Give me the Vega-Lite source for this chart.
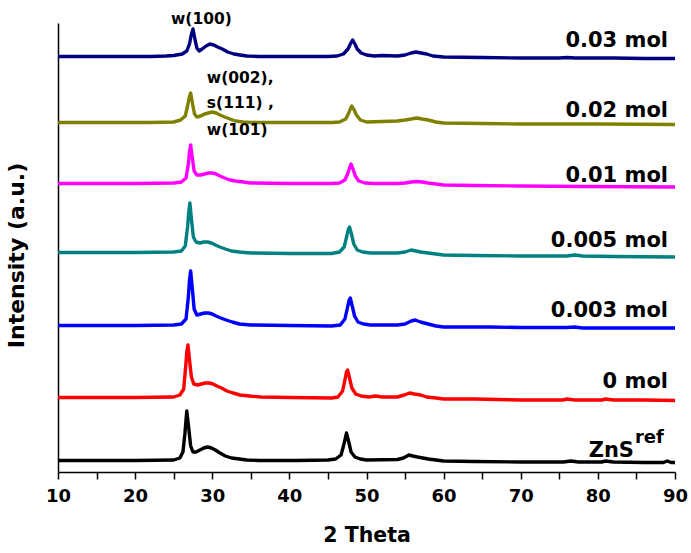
{
  "$schema": "https://vega.github.io/schema/vega-lite/v6.json",
  "width": 617,
  "height": 449,
  "autosize": {"type": "none"},
  "padding": {"left": 58, "top": 23, "right": 16, "bottom": 81},
  "background": "white",
  "config": {
    "view": {"stroke": null},
    "axisX": {"tickSize": 7}
  },
  "datasets": {
    "xrd": [
      {"s":"0.03 mol","x":10,"y":415.5},{"s":"0.03 mol","x":14,"y":415.5},{"s":"0.03 mol","x":18,"y":415.5},{"s":"0.03 mol","x":22,"y":415.5},{"s":"0.03 mol","x":24,"y":416},{"s":"0.03 mol","x":25,"y":416.5},{"s":"0.03 mol","x":26.1,"y":418},{"s":"0.03 mol","x":26.7,"y":421},{"s":"0.03 mol","x":27.05,"y":428},{"s":"0.03 mol","x":27.25,"y":436},{"s":"0.03 mol","x":27.5,"y":443},{"s":"0.03 mol","x":27.75,"y":433},{"s":"0.03 mol","x":28.0,"y":424},{"s":"0.03 mol","x":28.3,"y":421},{"s":"0.03 mol","x":28.7,"y":423},{"s":"0.03 mol","x":29.2,"y":426},{"s":"0.03 mol","x":29.7,"y":428},{"s":"0.03 mol","x":30.2,"y":427},{"s":"0.03 mol","x":30.7,"y":425},{"s":"0.03 mol","x":31.3,"y":423},{"s":"0.03 mol","x":32,"y":420},{"s":"0.03 mol","x":32.8,"y":418},{"s":"0.03 mol","x":33.6,"y":417},{"s":"0.03 mol","x":34.5,"y":416},{"s":"0.03 mol","x":36,"y":415.5},{"s":"0.03 mol","x":40,"y":415.5},{"s":"0.03 mol","x":45,"y":415.5},{"s":"0.03 mol","x":46.2,"y":416},{"s":"0.03 mol","x":47,"y":418},{"s":"0.03 mol","x":47.6,"y":423},{"s":"0.03 mol","x":47.9,"y":428},{"s":"0.03 mol","x":48.2,"y":432},{"s":"0.03 mol","x":48.5,"y":428},{"s":"0.03 mol","x":48.8,"y":423},{"s":"0.03 mol","x":49.3,"y":419},{"s":"0.03 mol","x":50,"y":417},{"s":"0.03 mol","x":51,"y":416},{"s":"0.03 mol","x":52,"y":416.5},{"s":"0.03 mol","x":54,"y":416},{"s":"0.03 mol","x":55,"y":417},{"s":"0.03 mol","x":55.8,"y":419},{"s":"0.03 mol","x":56.4,"y":420},{"s":"0.03 mol","x":57.1,"y":419},{"s":"0.03 mol","x":57.8,"y":418},{"s":"0.03 mol","x":58.6,"y":416},{"s":"0.03 mol","x":60,"y":415},{"s":"0.03 mol","x":65,"y":414.5},{"s":"0.03 mol","x":70,"y":414},{"s":"0.03 mol","x":75,"y":414},{"s":"0.03 mol","x":76,"y":414.5},{"s":"0.03 mol","x":77,"y":414},{"s":"0.03 mol","x":82,"y":414},{"s":"0.03 mol","x":86,"y":413.5},{"s":"0.03 mol","x":90,"y":413.5},

      {"s":"0.02 mol","x":10,"y":349.5},{"s":"0.02 mol","x":14,"y":349.5},{"s":"0.02 mol","x":18,"y":349.5},{"s":"0.02 mol","x":22,"y":349.5},{"s":"0.02 mol","x":25,"y":350},{"s":"0.02 mol","x":25.9,"y":352},{"s":"0.02 mol","x":26.5,"y":356},{"s":"0.02 mol","x":26.8,"y":366},{"s":"0.02 mol","x":27.0,"y":374},{"s":"0.02 mol","x":27.2,"y":379},{"s":"0.02 mol","x":27.45,"y":368},{"s":"0.02 mol","x":27.7,"y":358},{"s":"0.02 mol","x":28.0,"y":355},{"s":"0.02 mol","x":28.5,"y":356},{"s":"0.02 mol","x":29.0,"y":358},{"s":"0.02 mol","x":29.5,"y":359},{"s":"0.02 mol","x":30.0,"y":360},{"s":"0.02 mol","x":30.5,"y":359},{"s":"0.02 mol","x":31.0,"y":357},{"s":"0.02 mol","x":31.6,"y":355},{"s":"0.02 mol","x":32.3,"y":353},{"s":"0.02 mol","x":33,"y":351},{"s":"0.02 mol","x":34,"y":350},{"s":"0.02 mol","x":35,"y":349.5},{"s":"0.02 mol","x":40,"y":349.5},{"s":"0.02 mol","x":45.5,"y":349.5},{"s":"0.02 mol","x":46.5,"y":350},{"s":"0.02 mol","x":47.3,"y":353},{"s":"0.02 mol","x":47.7,"y":359},{"s":"0.02 mol","x":47.9,"y":363},{"s":"0.02 mol","x":48.1,"y":366},{"s":"0.02 mol","x":48.4,"y":362},{"s":"0.02 mol","x":48.7,"y":357},{"s":"0.02 mol","x":49.2,"y":352},{"s":"0.02 mol","x":50,"y":350},{"s":"0.02 mol","x":52,"y":350.5},{"s":"0.02 mol","x":54,"y":351},{"s":"0.02 mol","x":55,"y":352},{"s":"0.02 mol","x":55.8,"y":353},{"s":"0.02 mol","x":56.5,"y":354},{"s":"0.02 mol","x":57.2,"y":353},{"s":"0.02 mol","x":58,"y":352},{"s":"0.02 mol","x":59,"y":350},{"s":"0.02 mol","x":60,"y":349},{"s":"0.02 mol","x":65,"y":348.5},{"s":"0.02 mol","x":70,"y":348},{"s":"0.02 mol","x":80,"y":348},{"s":"0.02 mol","x":90,"y":347.5},

      {"s":"0.01 mol","x":10,"y":288.5},{"s":"0.01 mol","x":15,"y":288.5},{"s":"0.01 mol","x":20,"y":288.5},{"s":"0.01 mol","x":25,"y":289},{"s":"0.01 mol","x":26,"y":290},{"s":"0.01 mol","x":26.6,"y":294},{"s":"0.01 mol","x":26.9,"y":308},{"s":"0.01 mol","x":27.05,"y":320},{"s":"0.01 mol","x":27.2,"y":327},{"s":"0.01 mol","x":27.4,"y":315},{"s":"0.01 mol","x":27.65,"y":301},{"s":"0.01 mol","x":28.0,"y":297},{"s":"0.01 mol","x":28.5,"y":297},{"s":"0.01 mol","x":29.0,"y":298},{"s":"0.01 mol","x":29.5,"y":299},{"s":"0.01 mol","x":30.0,"y":299},{"s":"0.01 mol","x":30.5,"y":298},{"s":"0.01 mol","x":31.0,"y":296},{"s":"0.01 mol","x":31.6,"y":294},{"s":"0.01 mol","x":32.3,"y":292},{"s":"0.01 mol","x":33,"y":291},{"s":"0.01 mol","x":34,"y":290},{"s":"0.01 mol","x":35,"y":289},{"s":"0.01 mol","x":40,"y":288.5},{"s":"0.01 mol","x":45.5,"y":288.5},{"s":"0.01 mol","x":46.5,"y":289},{"s":"0.01 mol","x":47.2,"y":292},{"s":"0.01 mol","x":47.6,"y":299},{"s":"0.01 mol","x":47.8,"y":304},{"s":"0.01 mol","x":48.0,"y":308},{"s":"0.01 mol","x":48.25,"y":303},{"s":"0.01 mol","x":48.55,"y":296},{"s":"0.01 mol","x":49.0,"y":291},{"s":"0.01 mol","x":49.8,"y":289},{"s":"0.01 mol","x":51,"y":288.5},{"s":"0.01 mol","x":54,"y":288.5},{"s":"0.01 mol","x":55,"y":289},{"s":"0.01 mol","x":55.8,"y":290},{"s":"0.01 mol","x":56.5,"y":290.5},{"s":"0.01 mol","x":57.2,"y":290},{"s":"0.01 mol","x":58,"y":289},{"s":"0.01 mol","x":59,"y":288},{"s":"0.01 mol","x":60,"y":287},{"s":"0.01 mol","x":64,"y":286.5},{"s":"0.01 mol","x":70,"y":286},{"s":"0.01 mol","x":78,"y":285.5},{"s":"0.01 mol","x":90,"y":285},

      {"s":"0.005 mol","x":10,"y":219.5},{"s":"0.005 mol","x":15,"y":219.5},{"s":"0.005 mol","x":20,"y":219.5},{"s":"0.005 mol","x":25,"y":220},{"s":"0.005 mol","x":26,"y":221},{"s":"0.005 mol","x":26.5,"y":226},{"s":"0.005 mol","x":26.8,"y":245},{"s":"0.005 mol","x":26.95,"y":260},{"s":"0.005 mol","x":27.1,"y":269},{"s":"0.005 mol","x":27.3,"y":253},{"s":"0.005 mol","x":27.55,"y":235},{"s":"0.005 mol","x":27.9,"y":230},{"s":"0.005 mol","x":28.4,"y":229},{"s":"0.005 mol","x":28.9,"y":230},{"s":"0.005 mol","x":29.4,"y":230},{"s":"0.005 mol","x":29.9,"y":229},{"s":"0.005 mol","x":30.4,"y":227},{"s":"0.005 mol","x":31.0,"y":225},{"s":"0.005 mol","x":31.7,"y":223},{"s":"0.005 mol","x":32.5,"y":221},{"s":"0.005 mol","x":33.5,"y":220},{"s":"0.005 mol","x":35,"y":219},{"s":"0.005 mol","x":40,"y":218.5},{"s":"0.005 mol","x":45.5,"y":218.5},{"s":"0.005 mol","x":46.5,"y":220},{"s":"0.005 mol","x":47.1,"y":225},{"s":"0.005 mol","x":47.45,"y":236},{"s":"0.005 mol","x":47.65,"y":243},{"s":"0.005 mol","x":47.8,"y":245},{"s":"0.005 mol","x":48.05,"y":238},{"s":"0.005 mol","x":48.35,"y":228},{"s":"0.005 mol","x":48.8,"y":222},{"s":"0.005 mol","x":49.5,"y":220},{"s":"0.005 mol","x":50.5,"y":219},{"s":"0.005 mol","x":54,"y":219},{"s":"0.005 mol","x":55,"y":220},{"s":"0.005 mol","x":55.8,"y":222},{"s":"0.005 mol","x":56.4,"y":221},{"s":"0.005 mol","x":57,"y":220},{"s":"0.005 mol","x":58,"y":219},{"s":"0.005 mol","x":59,"y":218},{"s":"0.005 mol","x":60,"y":217},{"s":"0.005 mol","x":64,"y":216.5},{"s":"0.005 mol","x":70,"y":216},{"s":"0.005 mol","x":76,"y":216},{"s":"0.005 mol","x":77,"y":217},{"s":"0.005 mol","x":78,"y":216},{"s":"0.005 mol","x":82,"y":215.5},{"s":"0.005 mol","x":90,"y":215},

      {"s":"0.003 mol","x":10,"y":146.5},{"s":"0.003 mol","x":15,"y":146.5},{"s":"0.003 mol","x":20,"y":146.5},{"s":"0.003 mol","x":25,"y":147},{"s":"0.003 mol","x":26,"y":148},{"s":"0.003 mol","x":26.6,"y":153},{"s":"0.003 mol","x":26.9,"y":175},{"s":"0.003 mol","x":27.05,"y":192},{"s":"0.003 mol","x":27.2,"y":201},{"s":"0.003 mol","x":27.4,"y":185},{"s":"0.003 mol","x":27.65,"y":163},{"s":"0.003 mol","x":28.0,"y":157},{"s":"0.003 mol","x":28.5,"y":158},{"s":"0.003 mol","x":29.0,"y":159},{"s":"0.003 mol","x":29.5,"y":159},{"s":"0.003 mol","x":30.0,"y":158},{"s":"0.003 mol","x":30.5,"y":156},{"s":"0.003 mol","x":31.1,"y":154},{"s":"0.003 mol","x":31.8,"y":152},{"s":"0.003 mol","x":32.6,"y":150},{"s":"0.003 mol","x":33.5,"y":148},{"s":"0.003 mol","x":35,"y":147},{"s":"0.003 mol","x":40,"y":146.5},{"s":"0.003 mol","x":45.5,"y":146},{"s":"0.003 mol","x":46.6,"y":147},{"s":"0.003 mol","x":47.2,"y":153},{"s":"0.003 mol","x":47.55,"y":165},{"s":"0.003 mol","x":47.75,"y":172},{"s":"0.003 mol","x":47.9,"y":174},{"s":"0.003 mol","x":48.15,"y":166},{"s":"0.003 mol","x":48.45,"y":156},{"s":"0.003 mol","x":48.9,"y":150},{"s":"0.003 mol","x":49.6,"y":148},{"s":"0.003 mol","x":50.5,"y":147},{"s":"0.003 mol","x":54,"y":147},{"s":"0.003 mol","x":55,"y":148},{"s":"0.003 mol","x":55.8,"y":151},{"s":"0.003 mol","x":56.3,"y":152},{"s":"0.003 mol","x":57,"y":150},{"s":"0.003 mol","x":58,"y":148},{"s":"0.003 mol","x":59,"y":146},{"s":"0.003 mol","x":60,"y":145},{"s":"0.003 mol","x":66,"y":145},{"s":"0.003 mol","x":70,"y":144.5},{"s":"0.003 mol","x":76,"y":144.5},{"s":"0.003 mol","x":77,"y":145},{"s":"0.003 mol","x":78,"y":144},{"s":"0.003 mol","x":90,"y":144},

      {"s":"0 mol","x":10,"y":74.5},{"s":"0 mol","x":15,"y":74.5},{"s":"0 mol","x":20,"y":74.5},{"s":"0 mol","x":25,"y":75},{"s":"0 mol","x":25.8,"y":77},{"s":"0 mol","x":26.3,"y":83},{"s":"0 mol","x":26.55,"y":105},{"s":"0 mol","x":26.7,"y":120},{"s":"0 mol","x":26.85,"y":127},{"s":"0 mol","x":27.05,"y":112},{"s":"0 mol","x":27.3,"y":95},{"s":"0 mol","x":27.6,"y":88},{"s":"0 mol","x":28.1,"y":87},{"s":"0 mol","x":28.6,"y":88},{"s":"0 mol","x":29.1,"y":89},{"s":"0 mol","x":29.6,"y":89},{"s":"0 mol","x":30.1,"y":88},{"s":"0 mol","x":30.6,"y":86},{"s":"0 mol","x":31.2,"y":84},{"s":"0 mol","x":31.9,"y":81},{"s":"0 mol","x":32.7,"y":79},{"s":"0 mol","x":33.6,"y":77},{"s":"0 mol","x":34.8,"y":76},{"s":"0 mol","x":36.3,"y":75},{"s":"0 mol","x":40,"y":74.5},{"s":"0 mol","x":45.5,"y":74},{"s":"0 mol","x":46.3,"y":75},{"s":"0 mol","x":46.9,"y":81},{"s":"0 mol","x":47.2,"y":92},{"s":"0 mol","x":47.4,"y":100},{"s":"0 mol","x":47.55,"y":102},{"s":"0 mol","x":47.8,"y":94},{"s":"0 mol","x":48.1,"y":84},{"s":"0 mol","x":48.6,"y":78},{"s":"0 mol","x":49.3,"y":76},{"s":"0 mol","x":50.3,"y":75},{"s":"0 mol","x":51.2,"y":76},{"s":"0 mol","x":52,"y":75},{"s":"0 mol","x":54,"y":75},{"s":"0 mol","x":54.9,"y":77},{"s":"0 mol","x":55.6,"y":79},{"s":"0 mol","x":56.2,"y":78},{"s":"0 mol","x":57,"y":77},{"s":"0 mol","x":57.8,"y":75},{"s":"0 mol","x":59,"y":74},{"s":"0 mol","x":60,"y":73},{"s":"0 mol","x":64,"y":73},{"s":"0 mol","x":70,"y":72},{"s":"0 mol","x":75.5,"y":72},{"s":"0 mol","x":76,"y":73},{"s":"0 mol","x":77,"y":72},{"s":"0 mol","x":80.5,"y":72},{"s":"0 mol","x":81,"y":73},{"s":"0 mol","x":82,"y":72},{"s":"0 mol","x":86,"y":72},{"s":"0 mol","x":90,"y":71.5},

      {"s":"ZnS ref","x":10,"y":11.5},{"s":"ZnS ref","x":15,"y":11.5},{"s":"ZnS ref","x":20,"y":11.5},{"s":"ZnS ref","x":25,"y":12},{"s":"ZnS ref","x":25.8,"y":14},{"s":"ZnS ref","x":26.2,"y":20},{"s":"ZnS ref","x":26.45,"y":38},{"s":"ZnS ref","x":26.7,"y":61},{"s":"ZnS ref","x":26.95,"y":44},{"s":"ZnS ref","x":27.2,"y":26},{"s":"ZnS ref","x":27.5,"y":20},{"s":"ZnS ref","x":27.9,"y":20},{"s":"ZnS ref","x":28.4,"y":22},{"s":"ZnS ref","x":28.9,"y":24},{"s":"ZnS ref","x":29.4,"y":25},{"s":"ZnS ref","x":29.9,"y":24},{"s":"ZnS ref","x":30.4,"y":22},{"s":"ZnS ref","x":31,"y":19},{"s":"ZnS ref","x":31.7,"y":16},{"s":"ZnS ref","x":32.5,"y":14},{"s":"ZnS ref","x":33.5,"y":13},{"s":"ZnS ref","x":34.5,"y":12},{"s":"ZnS ref","x":36,"y":11.5},{"s":"ZnS ref","x":41,"y":11.5},{"s":"ZnS ref","x":45,"y":12},{"s":"ZnS ref","x":46,"y":13},{"s":"ZnS ref","x":46.7,"y":17},{"s":"ZnS ref","x":47.05,"y":27},{"s":"ZnS ref","x":47.4,"y":39},{"s":"ZnS ref","x":47.7,"y":30},{"s":"ZnS ref","x":48,"y":20},{"s":"ZnS ref","x":48.5,"y":15},{"s":"ZnS ref","x":49.2,"y":13},{"s":"ZnS ref","x":50,"y":12},{"s":"ZnS ref","x":54,"y":12.5},{"s":"ZnS ref","x":54.8,"y":14},{"s":"ZnS ref","x":55.5,"y":17},{"s":"ZnS ref","x":56,"y":16},{"s":"ZnS ref","x":56.6,"y":15},{"s":"ZnS ref","x":57.3,"y":14},{"s":"ZnS ref","x":58,"y":13},{"s":"ZnS ref","x":59,"y":12},{"s":"ZnS ref","x":60,"y":11},{"s":"ZnS ref","x":64,"y":10.5},{"s":"ZnS ref","x":70,"y":10},{"s":"ZnS ref","x":75.5,"y":10},{"s":"ZnS ref","x":76.5,"y":11},{"s":"ZnS ref","x":77.5,"y":10},{"s":"ZnS ref","x":80.5,"y":10},{"s":"ZnS ref","x":81,"y":11},{"s":"ZnS ref","x":82,"y":10},{"s":"ZnS ref","x":86,"y":9.5},{"s":"ZnS ref","x":88.5,"y":9.5},{"s":"ZnS ref","x":89,"y":11},{"s":"ZnS ref","x":89.5,"y":9.5},{"s":"ZnS ref","x":90,"y":9.5}
    ],
    "labels": [
      {"t":"0.03 mol","x":89.1,"y":425},
      {"t":"0.02 mol","x":89.1,"y":355},
      {"t":"0.01 mol","x":89.1,"y":290},
      {"t":"0.005 mol","x":89.1,"y":225},
      {"t":"0.003 mol","x":89.1,"y":155},
      {"t":"0 mol","x":89.1,"y":84},
      {"t":"ZnS","x":84.68,"y":15}
    ],
    "sup": [
      {"t":"ref","x":84.8,"y":29}
    ],
    "notes": [
      {"t":"w(100)","x":24.65,"y":448},
      {"t":"w(002),","x":29.3,"y":389},
      {"t":"s(111) ,","x":29.3,"y":364},
      {"t":"w(101)","x":29.3,"y":337}
    ]
  },
  "encoding": {
    "x": {
      "field": "x", "type": "quantitative",
      "scale": {"domain": [10, 90], "nice": false, "zero": false},
      "axis": {
        "title": "2 Theta",
        "values": [10,15,20,25,30,35,40,45,50,55,60,65,70,75,80,85,90],
        "labelExpr": "datum.value % 10 === 0 ? datum.label : ''",
        "grid": false,
        "domainColor": "black", "domainWidth": 1.5,
        "tickColor": "black", "tickWidth": 1.5,
        "labelFont": "DejaVu Sans", "labelFontWeight": "bold", "labelFontSize": 18, "labelColor": "black",
        "labelPadding": 8, "labelFlush": false, "labelOverlap": false,
        "titleFont": "DejaVu Sans", "titleFontWeight": "bold", "titleFontSize": 20.5, "titleColor": "black",
        "titlePadding": 20
      }
    },
    "y": {
      "field": "y", "type": "quantitative",
      "scale": {"domain": [0, 449], "nice": false, "zero": false},
      "axis": {
        "title": "Intensity (a.u.)",
        "ticks": false, "labels": false, "grid": false,
        "domainColor": "black", "domainWidth": 1.5,
        "titleFont": "DejaVu Sans", "titleFontWeight": "bold", "titleFontSize": 22, "titleColor": "black",
        "titleAngle": 270, "titleBaseline": "alphabetic", "titleAlign": "center",
        "titleX": -35, "titleY": 232
      }
    }
  },
  "layer": [
    {
      "data": {"name": "xrd"},
      "mark": {"type": "line", "strokeWidth": 3.4, "strokeJoin": "round"},
      "encoding": {
        "color": {
          "field": "s", "type": "nominal",
          "scale": {
            "domain": ["0.03 mol","0.02 mol","0.01 mol","0.005 mol","0.003 mol","0 mol","ZnS ref"],
            "range": ["#000080","#808000","#FF00FF","#008080","#0000FF","#FF0000","#000000"]
          },
          "legend": null
        }
      }
    },
    {
      "data": {"name": "labels"},
      "mark": {"type": "text", "align": "right", "baseline": "alphabetic", "font": "DejaVu Sans", "fontWeight": "bold", "fontSize": 21, "color": "black"},
      "encoding": {"text": {"field": "t"}}
    },
    {
      "data": {"name": "sup"},
      "mark": {"type": "text", "align": "left", "baseline": "alphabetic", "font": "DejaVu Sans", "fontWeight": "bold", "fontSize": 18, "color": "black"},
      "encoding": {"text": {"field": "t"}}
    },
    {
      "data": {"name": "notes"},
      "mark": {"type": "text", "align": "left", "baseline": "alphabetic", "font": "DejaVu Sans", "fontWeight": "bold", "fontSize": 15.5, "color": "black"},
      "encoding": {"text": {"field": "t"}}
    }
  ]
}
